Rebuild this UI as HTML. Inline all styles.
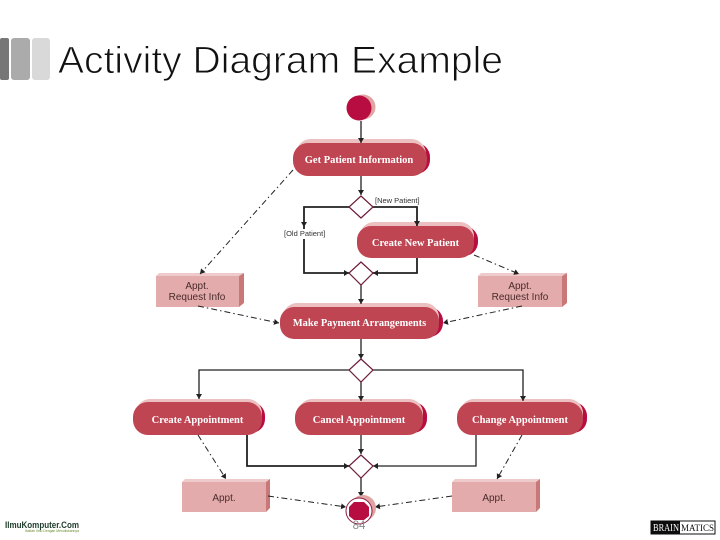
<!DOCTYPE html>
<html>
<head>
<meta charset="utf-8">
<style>
html,body{margin:0;padding:0;background:#fff;width:720px;height:540px;overflow:hidden}
svg{display:block}
.st{font-family:"Liberation Serif",serif;font-weight:bold;font-size:10.5px;fill:#fff;text-anchor:middle}
.bx{font-family:"Liberation Sans",sans-serif;font-size:10px;fill:#4a2c2c;text-anchor:middle}
.gd{font-family:"Liberation Sans",sans-serif;font-size:7.5px;fill:#333}
.l{fill:none;stroke:#222;stroke-width:1.3}
.t{fill:none;stroke:#222;stroke-width:1.8}
.d{fill:none;stroke:#222;stroke-width:1;stroke-dasharray:6 3 1.5 3}
.dm{fill:#fff;stroke:#6e1a3a;stroke-width:1.2}
</style>
</head>
<body>
<svg width="720" height="540" viewBox="0 0 720 540" xmlns="http://www.w3.org/2000/svg">
<defs>
<filter id="b" x="-5%" y="-5%" width="110%" height="110%"><feGaussianBlur stdDeviation="0.35"/></filter>
<marker id="a" markerWidth="7" markerHeight="7" refX="5" refY="3" orient="auto" markerUnits="userSpaceOnUse"><path d="M0,0 L5,3 L0,6 Z" fill="#222"/></marker>
</defs>
<rect x="0" y="38" width="9" height="42" rx="2" fill="#777"/>
<rect x="11" y="38" width="19" height="42" rx="3" fill="#ababab"/>
<rect x="32" y="38" width="18" height="42" rx="3" fill="#d9d9d9"/>
<text x="58" y="73" font-family="Liberation Sans, sans-serif" font-size="38" fill="#111" stroke="#fff" stroke-width="0.9" paint-order="fill stroke" textLength="445" lengthAdjust="spacingAndGlyphs">Activity Diagram Example</text>

<g filter="url(#b)">
<!-- start -->
<circle cx="363" cy="107" r="12.5" fill="#e2a3a3"/>
<circle cx="359" cy="108" r="12.5" fill="#b8083f"/>

<!-- Activities -->
<rect x="298" y="143" width="132" height="31" rx="14" fill="#b8083f"/>
<rect x="296" y="139" width="130" height="34" rx="15" fill="#ecc0c0"/>
<rect x="293" y="143" width="134" height="33" rx="15" fill="#bf4552"/>
<text class="st" x="359" y="163">Get Patient Information</text>

<rect x="362" y="226" width="116" height="30" rx="14" fill="#b8083f"/>
<rect x="360" y="222" width="114" height="33" rx="14" fill="#ecc0c0"/>
<rect x="357" y="226" width="117" height="32" rx="14" fill="#bf4552"/>
<text class="st" x="415.500" y="246">Create New Patient</text>

<rect x="285" y="307" width="158" height="30" rx="14" fill="#b8083f"/>
<rect x="283" y="303" width="156" height="33" rx="14" fill="#ecc0c0"/>
<rect x="280" y="307" width="159" height="32" rx="14" fill="#bf4552"/>
<text class="st" x="359.500" y="326" style="font-size:10.4px">Make Payment Arrangements</text>

<rect x="138" y="402" width="127" height="31" rx="14" fill="#b8083f"/>
<rect x="136" y="399" width="126" height="33" rx="14" fill="#ecc0c0"/>
<rect x="133" y="402" width="129" height="33" rx="15" fill="#bf4552"/>
<text class="st" x="197.500" y="423">Create Appointment</text>

<rect x="300" y="402" width="127" height="31" rx="14" fill="#b8083f"/>
<rect x="298" y="399" width="125" height="33" rx="14" fill="#ecc0c0"/>
<rect x="295" y="402" width="128" height="33" rx="15" fill="#bf4552"/>
<text class="st" x="359" y="423">Cancel Appointment</text>

<rect x="462" y="402" width="125" height="31" rx="14" fill="#b8083f"/>
<rect x="460" y="399" width="123" height="33" rx="14" fill="#ecc0c0"/>
<rect x="457" y="402" width="126" height="33" rx="15" fill="#bf4552"/>
<text class="st" x="520" y="423">Change Appointment</text>

<!-- Object boxes -->
<path d="M156,276 L159,273 H244 L239,276 Z" fill="#efcaca"/>
<path d="M239,276 L244,273 V303 L239,307 Z" fill="#c97878"/>
<rect x="156" y="276" width="83" height="31" fill="#e3abab"/>
<text class="bx" x="197" y="289">Appt.</text>
<text class="bx" x="197" y="300">Request Info</text>

<path d="M478,276 L481,273 H567 L562,276 Z" fill="#efcaca"/>
<path d="M562,276 L567,273 V303 L562,307 Z" fill="#c97878"/>
<rect x="478" y="276" width="84" height="31" fill="#e3abab"/>
<text class="bx" x="520" y="289">Appt.</text>
<text class="bx" x="520" y="300">Request Info</text>

<path d="M182,482 L185,479 H270 L266,482 Z" fill="#efcaca"/>
<path d="M266,482 L270,479 V508 L266,512 Z" fill="#c97878"/>
<rect x="182" y="482" width="84" height="30" fill="#e3abab"/>
<text class="bx" x="224" y="501">Appt.</text>

<path d="M452,482 L455,479 H540 L536,482 Z" fill="#efcaca"/>
<path d="M536,482 L540,479 V508 L536,512 Z" fill="#c97878"/>
<rect x="452" y="482" width="84" height="30" fill="#e3abab"/>
<text class="bx" x="494" y="501">Appt.</text>

<!-- Solid connectors -->
<path class="l" d="M361,121 V143" marker-end="url(#a)"/>
<path class="l" d="M361,176 V195" marker-end="url(#a)"/>
<path class="t" d="M349,207 H304 V227" marker-end="url(#a)"/>
<path class="t" d="M304,227 V273 H349" marker-end="url(#a)"/>
<path class="t" d="M373,207 H417 V226" marker-end="url(#a)"/>
<path class="t" d="M417,258 V273 H373" marker-end="url(#a)"/>
<path class="l" d="M361,285 V304" marker-end="url(#a)"/>
<path class="l" d="M361,339 V359" marker-end="url(#a)"/>
<path class="l" d="M349,370 H199 V399" marker-end="url(#a)"/>
<path class="l" d="M373,370 H523 V401" marker-end="url(#a)"/>
<path class="l" d="M361,382 V401" marker-end="url(#a)"/>
<path class="l" d="M361,435 V454" marker-end="url(#a)"/>
<path class="t" d="M247,435 V466 H349" marker-end="url(#a)"/>
<path class="l" d="M476,435 V466 H373" marker-end="url(#a)"/>
<path class="l" d="M361,478 V497" marker-end="url(#a)"/>

<!-- Dashed connectors -->
<path class="d" d="M293,170 L200,274" marker-end="url(#a)"/>
<path class="d" d="M474,255 L519,274" marker-end="url(#a)"/>
<path class="d" d="M198,306 L279,323" marker-end="url(#a)"/>
<path class="d" d="M522,306 L443,323" marker-end="url(#a)"/>
<path class="d" d="M198,435 L226,479" marker-end="url(#a)"/>
<path class="d" d="M522,435 L497,479" marker-end="url(#a)"/>
<path class="d" d="M268,496 L346,507" marker-end="url(#a)"/>
<path class="d" d="M452,496 L375,507" marker-end="url(#a)"/>

<!-- Diamonds -->
<polygon class="dm" points="361,196 373,207 361,218 349,207"/>
<polygon class="dm" points="361,262 373,273 361,285 349,273"/>
<polygon class="dm" points="361,359 373,370 361,382 349,370"/>
<polygon class="dm" points="361,455 373,466 361,478 349,466"/>

<!-- End -->
<circle cx="363" cy="508" r="13" fill="#e2a3a3"/>
<circle cx="359" cy="511" r="13" fill="#fff" stroke="#8a1a45" stroke-width="1"/>
<polygon points="354,502 364,502 369,507 369,516 364,520 354,520 349,516 349,507" fill="#b8083f"/>

<!-- Guards -->
<text class="gd" x="375" y="203">[New Patient]</text>
<rect x="283" y="229" width="43" height="10" fill="#fff"/>
<text class="gd" x="284" y="236">[Old Patient]</text>

<!-- Logos -->
<text x="5" y="528" font-family="Liberation Sans, sans-serif" font-size="9.5" font-weight="bold" fill="#1f3a2a" textLength="74" lengthAdjust="spacingAndGlyphs">IlmuKomputer.Com</text>
<text x="25" y="532" font-family="Liberation Sans, sans-serif" font-size="4" fill="#6a8a30" textLength="54" lengthAdjust="spacingAndGlyphs">Ikatlah Ilmu Dengan Menuliskannya</text>
<rect x="651" y="521" width="64" height="13" fill="#fff" stroke="#111" stroke-width="1"/>
<rect x="651" y="521" width="29" height="13" fill="#111"/>
<text x="653" y="531" font-family="Liberation Serif, serif" font-size="10" fill="#fff" textLength="26" lengthAdjust="spacingAndGlyphs">BRAIN</text>
<text x="681" y="531" font-family="Liberation Serif, serif" font-size="9" fill="#111" textLength="33" lengthAdjust="spacingAndGlyphs">MATICS</text>
</g>
<text x="359" y="529" font-family="Liberation Sans, sans-serif" font-size="11.500" fill="#8b8b8b" text-anchor="middle">84</text>
</svg>
</body>
</html>
